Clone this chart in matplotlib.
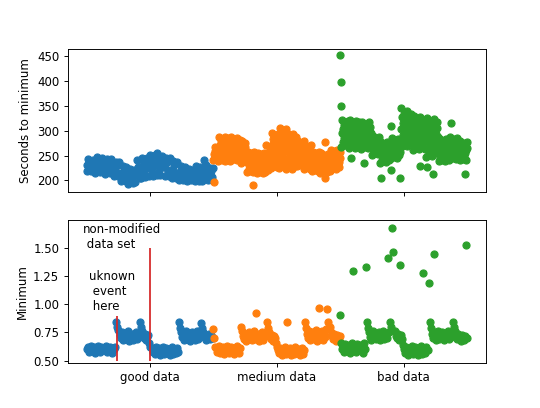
import numpy as np
import matplotlib
matplotlib.use("Agg")
from matplotlib import pyplot as plt

GROUPS = ["good data", "medium data", "bad data"]

# seconds to minimum, one list per data set
secs_good = [218, 230, 243, 237, 224, 219, 231, 242, 236,
             223, 215, 231, 247, 239, 223, 216, 232, 246, 238, 224, 220,
             213, 228, 244, 236, 221, 214, 229, 243, 235,
             222, 208, 223, 237, 230, 215, 209, 236,
             213, 198, 213, 228, 221, 206, 199, 227,
             207, 193, 208, 222, 215, 200, 194, 221,
             211, 197, 212, 240, 226, 219, 204,
             205, 226, 246, 236, 215, 206, 225, 245,
             230, 208, 230, 252, 241, 219, 209, 231, 251,
             230, 210, 256, 240, 220, 211, 231, 249, 239,
             227, 208, 227, 246, 237, 217, 209, 245,
             221, 204, 221, 238, 230, 212, 205, 237,
             214, 200, 214, 228, 221, 207, 201, 215, 227,
             210, 199, 211, 222, 216, 205, 200, 211, 221,
             213, 198, 213, 228, 221, 206, 199, 227,
             215, 199, 216, 242, 224, 207, 231,
             212, 200, 213, 225, 219, 206, 201, 224]
secs_medium = [240, 254, 196, 268, 259, 247, 243, 257, 265, 250, 262, 245,
               238, 263, 288, 271, 246, 280, 255, 242, 267, 284, 276, 250, 259, 263,
               239, 264, 287, 272, 247, 279, 254, 243, 268, 285, 275, 251, 260, 238,
               240, 263, 287, 271, 248, 279, 255, 244, 267, 283, 275, 252, 259, 264,
               241, 264, 286, 270, 249, 280, 256, 245, 268, 282,
               235, 257, 280, 265, 243, 272, 250, 239, 261, 276, 268, 246, 254, 258,
               216, 237, 258, 244, 223, 251, 230, 219, 240, 255, 248, 226, 233, 237,
               217, 190, 238, 257, 245, 224, 252, 231, 220, 241,
               214, 235, 256, 242, 221, 249, 228, 217, 238, 253, 246, 224, 231, 235, 215, 236, 255, 241,
               216, 239, 272, 247, 224, 255, 232, 220, 243, 258, 251, 228, 235, 262,
               225, 260, 295, 272, 237, 283, 248, 231, 266, 289, 278, 243, 254, 260, 226, 261, 294, 271,
               225, 265, 305, 279, 239, 292, 252, 232, 272, 298, 285, 245, 259, 265, 226, 266, 304, 280,
               222, 258, 295, 271, 234, 283, 246, 228, 264, 289, 277, 240, 252, 258,
               223, 259, 294, 270, 235, 282, 247, 229, 265, 288,
               228, 254, 280, 263, 237, 271, 245, 232, 258, 276, 267, 241, 250, 254, 229, 255, 279, 262,
               222, 247, 272, 255, 230, 264, 239, 226, 251, 268, 259, 234, 243, 247, 223, 248, 271, 256,
               218, 238, 258, 245, 225, 251, 231, 221, 241, 255, 248, 228, 234, 238, 219, 239, 257, 244,
               215, 235, 255, 242, 222, 249, 228, 218, 238, 252, 245, 205, 278, 225, 231, 235,
               216, 236, 254, 241, 223, 248, 229, 219,
               222, 242, 262, 249, 229, 255, 235, 225, 245, 259, 252, 232, 238, 242,
               223, 243, 261, 248, 230, 256, 236, 226, 246, 258]
secs_bad = [452, 398, 350,
            268, 295, 321, 303, 277, 312, 286, 272, 299, 317, 308, 281, 290, 295, 269, 296, 320, 302,
            265, 293, 321, 302, 245, 274, 312, 284, 270, 298, 316, 307, 279, 288,
            266, 294, 320, 301, 275, 311, 285, 271, 299, 317, 306, 280, 289, 293,
            264, 291, 318, 300, 273, 235, 309, 282, 268, 295, 314, 305, 277, 286, 291,
            265, 292, 317, 299, 274, 308, 283, 269, 296,
            252, 271, 289, 277, 258, 283, 264, 255, 274, 286, 280, 261, 267, 271, 253, 272, 288, 276,
            235, 257, 278, 264, 205, 242, 271, 250, 239, 261, 274, 267, 246, 253, 257,
            236, 258, 277, 263, 243, 270, 249, 240, 262,
            244, 265, 310, 220, 285, 271, 251, 278, 258, 248, 269, 281, 274, 254, 261, 265,
            245, 266, 284, 270, 252, 277, 257, 205,
            268, 304, 345, 328, 280, 316, 292, 274, 310, 334, 322, 286, 298, 304,
            269, 305, 340, 327, 281, 317, 293, 275, 311, 333, 321, 287, 299, 305,
            262, 296, 329, 307, 273, 318, 284, 268, 302, 323, 312, 279, 290, 296,
            263, 297, 228, 328, 306, 274, 317, 285, 269, 303, 322, 311, 280, 291, 297, 264,
            248, 287, 325, 299, 226, 261, 312, 274, 254, 293, 319, 306, 267, 280, 287,
            249, 288, 212, 324, 298, 262, 311, 275, 255, 294, 318, 305, 268, 281, 288,
            238, 261, 284, 269, 246, 276, 253, 242, 265, 280, 272, 249, 257, 261,
            239, 262, 283, 268, 247, 275, 254, 243, 266, 279,
            242, 265, 287, 272, 249, 315, 279, 257, 246, 269, 283, 276, 253, 261, 265,
            243, 266, 286, 271, 250, 278, 258, 247, 270,
            240, 260, 279, 266, 247, 273, 253, 243, 263, 276, 269, 250, 256, 213, 241, 261, 278, 265]

# minimum value, one list per data set
min_good = [0.60, 0.62, 0.58, 0.61, 0.63, 0.59, 0.60, 0.62, 0.57, 0.61, 0.59, 0.63, 0.60, 0.58, 0.62, 0.61, 0.59,
            0.60, 0.63, 0.58, 0.61, 0.60, 0.62, 0.59, 0.57, 0.61, 0.60, 0.62,
            0.84, 0.80, 0.77, 0.73, 0.70, 0.75, 0.68, 0.72, 0.74, 0.69, 0.71, 0.76, 0.67, 0.73, 0.70, 0.74, 0.68,
            0.72, 0.75, 0.69, 0.71, 0.73, 0.84, 0.80, 0.76, 0.72, 0.70, 0.74, 0.68, 0.71, 0.73, 0.66, 0.62,
            0.61, 0.58, 0.60, 0.56, 0.62, 0.59, 0.57, 0.61, 0.55, 0.60, 0.58, 0.62, 0.56, 0.59, 0.61, 0.57, 0.60,
            0.55, 0.58, 0.62, 0.56, 0.60, 0.59, 0.57, 0.61, 0.58,
            0.84, 0.79, 0.75, 0.71, 0.68, 0.73, 0.76, 0.69, 0.72, 0.74, 0.67, 0.71, 0.75, 0.70, 0.73, 0.68, 0.72,
            0.76, 0.69, 0.74, 0.83, 0.79, 0.75, 0.71, 0.73, 0.68, 0.72, 0.70, 0.74, 0.69, 0.73, 0.71, 0.70]
min_medium = [0.78, 0.70, 0.62, 0.58, 0.60, 0.63, 0.57, 0.61, 0.59, 0.62, 0.56, 0.60, 0.58, 0.63, 0.61, 0.57, 0.59,
              0.62, 0.60, 0.56, 0.61, 0.58, 0.63, 0.59, 0.57, 0.61,
              0.80, 0.76, 0.72, 0.69, 0.74, 0.67, 0.71, 0.75, 0.70, 0.73, 0.68, 0.72, 0.76, 0.69, 0.92, 0.71, 0.74,
              0.67, 0.73, 0.70, 0.75, 0.68, 0.72, 0.74, 0.84, 0.79, 0.75, 0.71, 0.69, 0.73, 0.67, 0.72, 0.70, 0.66,
              0.62,
              0.59, 0.57, 0.61, 0.55, 0.60, 0.58, 0.62, 0.56, 0.84, 0.59, 0.57, 0.61, 0.55, 0.60, 0.58, 0.56, 0.62,
              0.59, 0.57, 0.60, 0.55, 0.58, 0.61, 0.56, 0.59,
              0.84, 0.79, 0.74, 0.70, 0.76, 0.68, 0.72, 0.75, 0.69, 0.73, 0.77, 0.67, 0.71, 0.97, 0.74, 0.70, 0.76,
              0.68, 0.73, 0.71, 0.78, 0.96, 0.84, 0.80, 0.75, 0.72, 0.69, 0.74, 0.71, 0.67, 0.73, 0.70, 0.68, 0.72]
min_bad = [0.91, 0.66, 0.60, 0.63, 0.58, 0.65, 0.61, 0.59, 0.64, 0.57, 0.62, 0.66, 1.30, 0.60, 0.63, 0.58, 0.65,
           0.61, 0.59, 0.64, 0.62, 0.57, 0.66, 0.60, 1.33,
           0.84, 0.79, 0.75, 0.71, 0.68, 0.73, 0.76, 0.70, 0.74, 0.69, 0.72, 0.75, 0.68, 0.73, 0.71, 0.76, 0.69,
           0.74, 0.72, 0.70, 1.41, 0.75, 0.84, 0.80, 1.68, 1.47, 0.76, 0.72, 0.70, 0.74, 0.68, 1.35, 0.73, 0.69,
           0.64, 0.60, 0.57, 0.62, 0.59, 0.55, 0.61, 0.58, 0.63, 0.56, 0.60, 0.62, 0.57, 0.59, 0.55, 0.61, 0.58,
           0.63, 0.56, 1.28, 0.60, 0.57, 0.62, 0.59, 1.19,
           0.84, 0.79, 0.74, 0.70, 1.45, 0.75, 0.68, 0.72, 0.76, 0.69, 0.73, 0.71, 0.75, 0.68, 0.72, 0.74, 0.70,
           0.76, 0.69, 0.73, 0.71, 0.75, 0.84, 0.80, 0.76, 0.72, 0.69, 0.74, 0.71, 0.67, 0.73, 0.70, 0.68, 0.72,
           1.53, 0.70]

# annotation markers (x in group units, y in "Minimum")
event_x = [0.74, 1.0]
event_top = [0.9, 1.5]
event_bottom = 0.5

secs = [secs_good, secs_medium, secs_bad]
mins = [min_good, min_medium, min_bad]

fig, (ax1, ax2) = plt.subplots(2, 1, sharex=True, figsize=(6.4, 408 / 84.375), dpi=84.375)

for i, (s, m) in enumerate(zip(secs, mins)):
    g = i + 1
    # samples of each data set spread over one unit around its tick
    ax1.scatter(np.linspace(g - 0.5, g + 0.5, len(s)), s)
    ax2.scatter(np.linspace(g - 0.5, g + 0.5, len(m)), m)

ax1.set_ylabel("Seconds to minimum")
ax2.set_ylabel("Minimum")

ax2.vlines(event_x, event_bottom, event_top, colors="tab:red")
ax2.text(0.47, 1.5, "non-modified\n data set")
ax2.text(0.52, 0.95, "uknown\n event\n here")
ax2.set_ylim(0.477, 1.749)

ax2.set_xticks([1, 2, 3])
ax2.set_xticklabels(GROUPS)

fig.savefig("out.png", dpi=84.375)
